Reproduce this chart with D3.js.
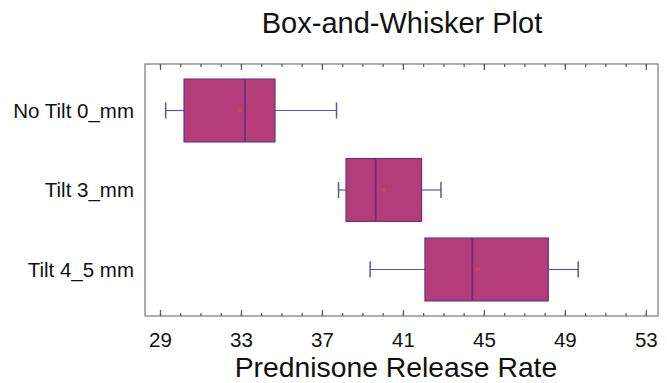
<!DOCTYPE html>
<html><head><meta charset="utf-8">
<script src="https://cdn.jsdelivr.net/npm/d3@7"></script>
<style>body{margin:0;background:#fff}svg{display:block}text{font-family:Arial,"Liberation Sans",sans-serif;fill:#111}</style>
</head><body>
<script>
const categories = ["No Tilt 0_mm", "Tilt 3_mm", "Tilt 4_5 mm"];
const whiskerLow = [29.28, 37.82, 39.38];
const q1 = [30.19, 38.19, 42.09];
const median = [33.2, 39.65, 44.43];
const q3 = [34.68, 41.92, 48.18];
const whiskerHigh = [37.72, 42.88, 49.66];
const means = [32.95, 40.08, 44.69];
const xTicks = [29, 33, 37, 41, 45, 49, 53];
const xMinorTicks = d3.range(29, 54, 1);

const W = 667, H = 383;
const m = {left: 145, right: 9, top: 64, bottom: 67};
const svg = d3.select("body").append("svg").attr("width", W).attr("height", H);

const x = d3.scaleLinear().domain([28.26, 53.6]).range([m.left, W - m.right]);
const y = d3.scalePoint().domain(categories).range([m.top, H - m.bottom]).padding(0.585);
const bh = y.step() * 0.79;

const rows = categories.map((c, i) => ({c, lo: whiskerLow[i], q1: q1[i], med: median[i], q3: q3[i], hi: whiskerHigh[i], mean: means[i]}));

// frame
svg.append("rect").attr("x", m.left).attr("y", m.top)
  .attr("width", W - m.right - m.left).attr("height", H - m.bottom - m.top)
  .attr("fill", "none").attr("stroke", "#7a7a7a").attr("stroke-width", 1.2);

// ticks (inward) on bottom & top
const bottomAxis = svg.append("g").attr("transform", `translate(0,${H - m.bottom})`)
  .call(d3.axisBottom(x).tickValues(xMinorTicks).tickSize(-3).tickFormat(""));
const bottomMajor = svg.append("g").attr("transform", `translate(0,${H - m.bottom})`)
  .call(d3.axisBottom(x).tickValues(xTicks).tickSize(-6).tickPadding(16).tickFormat(d3.format("d")));
const topAxis = svg.append("g").attr("transform", `translate(0,${m.top})`)
  .call(d3.axisTop(x).tickValues(xMinorTicks).tickSize(-3).tickFormat(""));
const topMajor = svg.append("g").attr("transform", `translate(0,${m.top})`)
  .call(d3.axisTop(x).tickValues(xTicks).tickSize(-6).tickFormat(""));
[bottomAxis, bottomMajor, topAxis, topMajor].forEach(g => {
  g.select(".domain").remove();
  g.selectAll("line").attr("stroke", "#555").attr("stroke-width", 1.2);
});
bottomMajor.selectAll("text").attr("font-size", 20.5).attr("fill", "#111")
  .style("font-family", "Arial, 'Liberation Sans', sans-serif");

// y labels
const leftAxis = svg.append("g").attr("transform", `translate(${m.left},0)`)
  .call(d3.axisLeft(y).tickSize(0).tickPadding(11));
leftAxis.select(".domain").remove();
leftAxis.selectAll("text").attr("font-size", 20.5).attr("fill", "#111")
  .style("font-family", "Arial, 'Liberation Sans', sans-serif");

const g = svg.append("g");
const whiskerColor = "#5a5a98";
// whiskers
g.selectAll(".wl").data(rows).join("line")
  .attr("x1", d => x(d.lo)).attr("x2", d => x(d.q1))
  .attr("y1", d => y(d.c)).attr("y2", d => y(d.c))
  .attr("stroke", whiskerColor).attr("stroke-width", 1.2);
g.selectAll(".wh").data(rows).join("line")
  .attr("x1", d => x(d.q3)).attr("x2", d => x(d.hi))
  .attr("y1", d => y(d.c)).attr("y2", d => y(d.c))
  .attr("stroke", whiskerColor).attr("stroke-width", 1.2);
["lo", "hi"].forEach(k => {
  g.selectAll(".cap" + k).data(rows).join("line")
    .attr("x1", d => x(d[k])).attr("x2", d => x(d[k]))
    .attr("y1", d => y(d.c) - 8).attr("y2", d => y(d.c) + 8)
    .attr("stroke", whiskerColor).attr("stroke-width", 1.5);
});
// boxes
g.selectAll(".box").data(rows).join("rect")
  .attr("x", d => x(d.q1)).attr("width", d => x(d.q3) - x(d.q1))
  .attr("y", d => y(d.c) - bh / 2).attr("height", bh)
  .attr("fill", "#b43c79").attr("stroke", "#6a3585").attr("stroke-width", 1.3);
// medians
g.selectAll(".med").data(rows).join("line")
  .attr("x1", d => x(d.med)).attr("x2", d => x(d.med))
  .attr("y1", d => y(d.c) - bh / 2).attr("y2", d => y(d.c) + bh / 2)
  .attr("stroke", "#6a2f78").attr("stroke-width", 1.8);
// means
g.selectAll(".mean").data(rows).join("path")
  .attr("d", d => `M${x(d.mean) - 3},${y(d.c)}h6M${x(d.mean)},${y(d.c) - 3}v6`)
  .attr("stroke", "#d84a5a").attr("stroke-width", 1.5).attr("opacity", 0.7);

// title & x label
svg.append("text").attr("x", 402).attr("y", 33)
  .attr("text-anchor", "middle").attr("font-size", 29).text("Box-and-Whisker Plot");
svg.append("text").attr("x", 396).attr("y", 377)
  .attr("text-anchor", "middle").attr("font-size", 28.3).text("Prednisone Release Rate");
</script>
</body></html>
